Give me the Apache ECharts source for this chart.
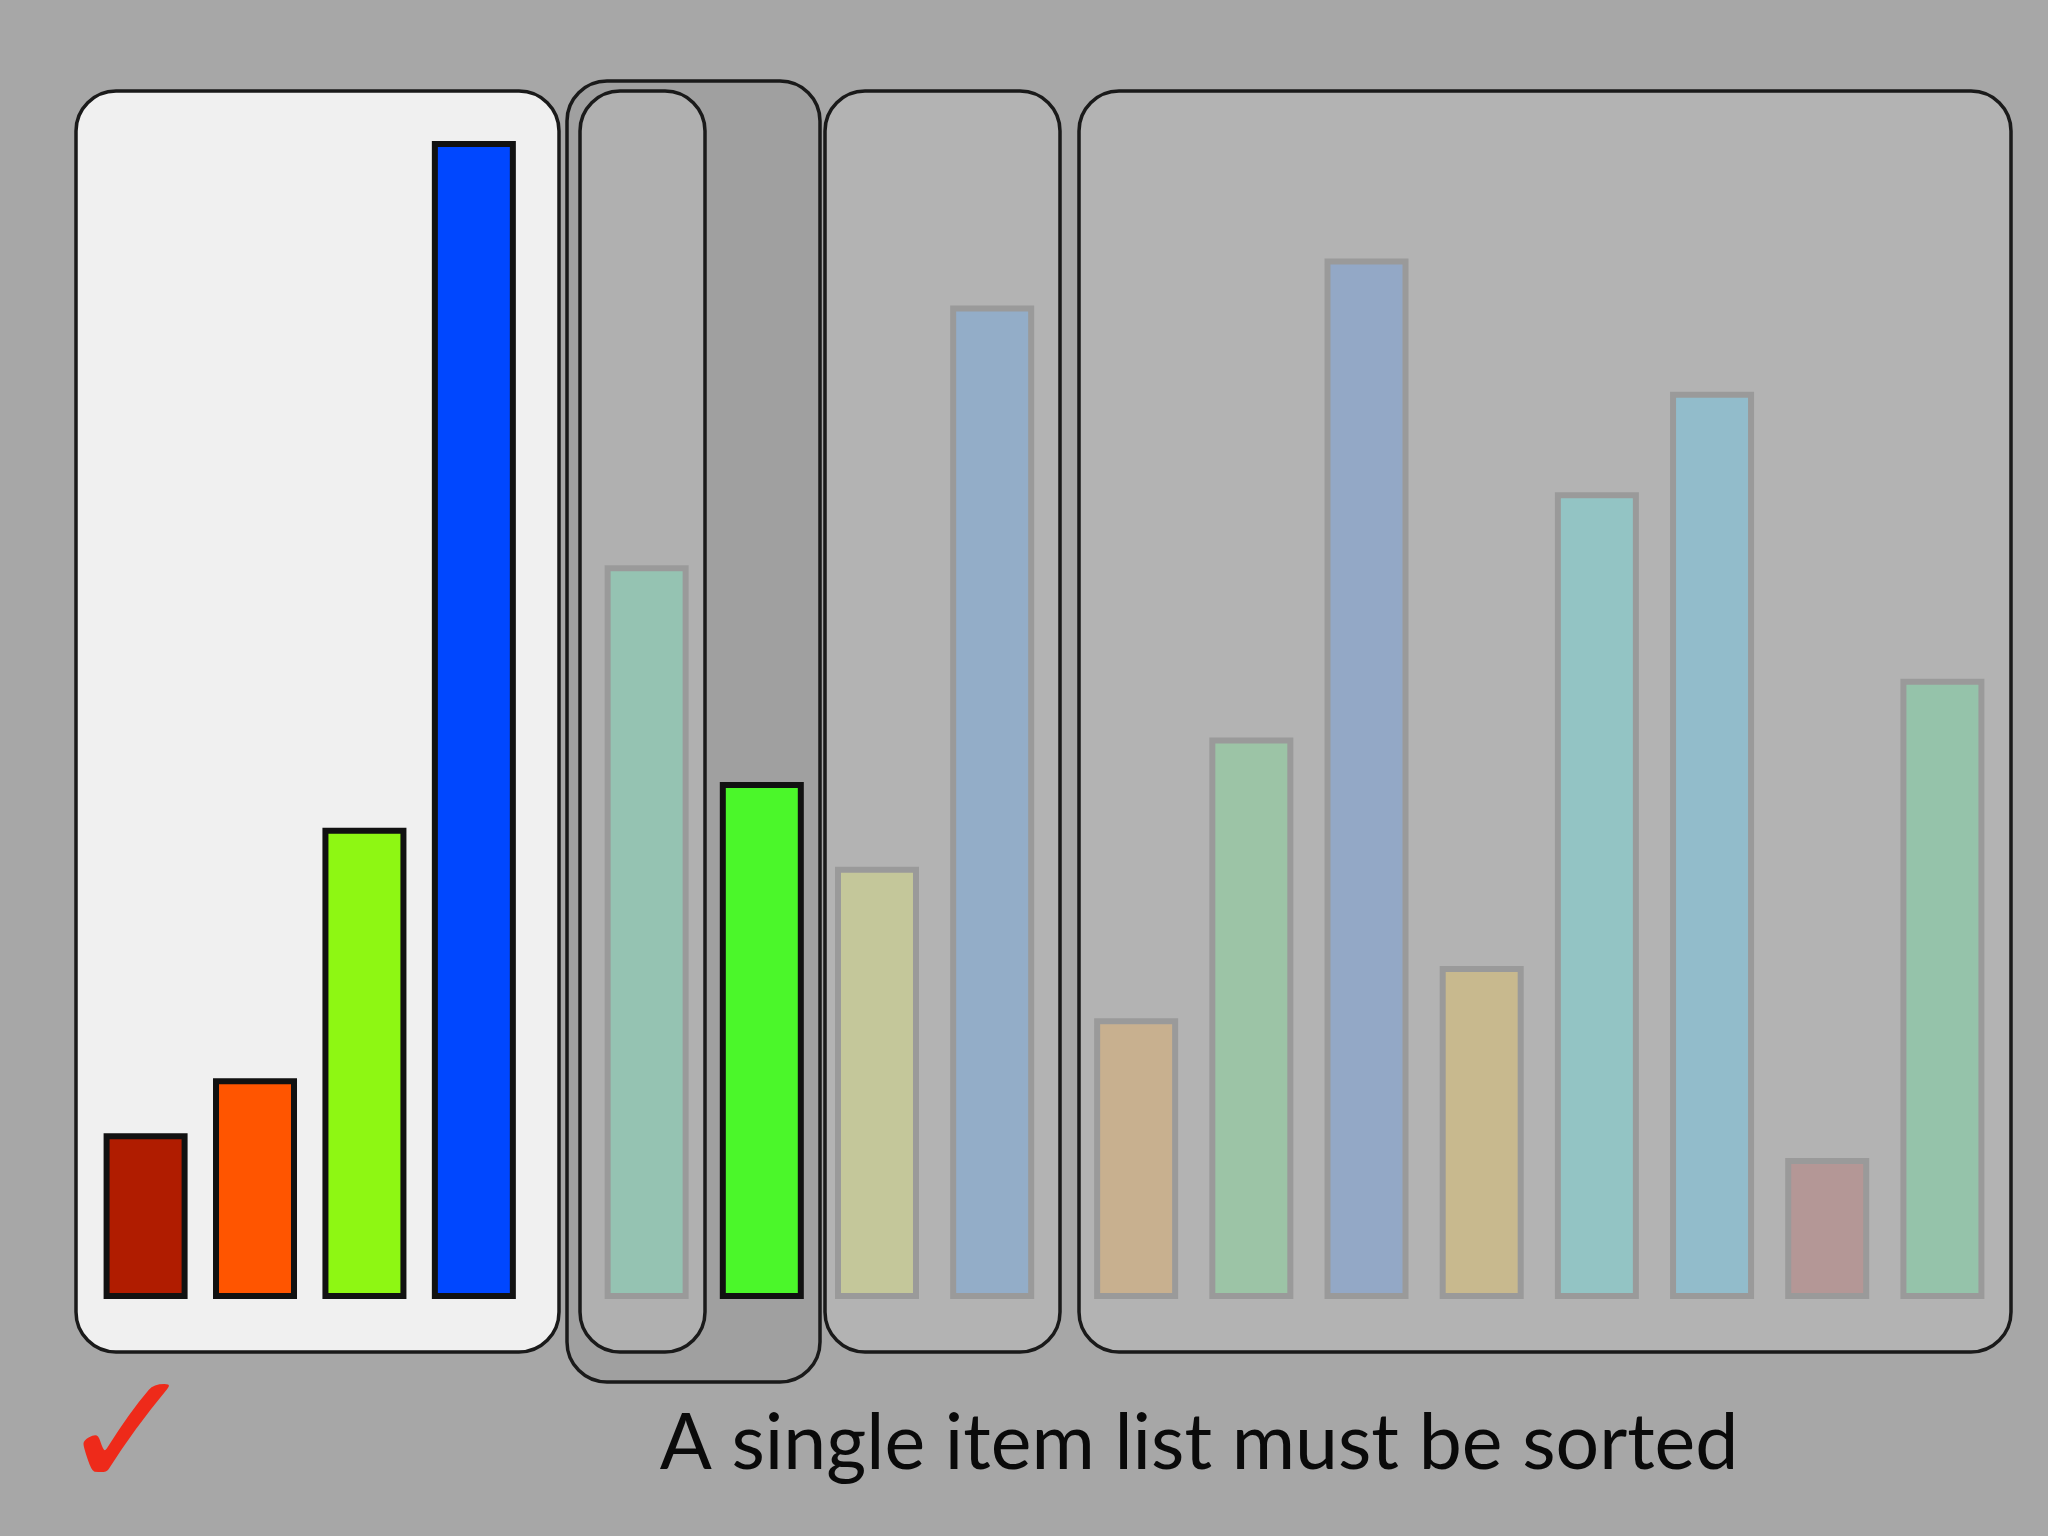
<!DOCTYPE html>
<html>
<head>
<meta charset="utf-8">
<script src="https://cdn.jsdelivr.net/npm/echarts@6/dist/echarts.min.js"></script>
<style>
  html, body { margin: 0; padding: 0; background: #a7a7a7; }
  #main { width: 2048px; height: 1536px; }
</style>
</head>
<body>
<div id="main"></div>
<script>
// bar positions (slot index along the row) and heights
const positions = [0, 0.95, 1.9, 2.85, 4.35, 5.35, 6.35, 7.35, 8.6, 9.6, 10.6, 11.6, 12.6, 13.6, 14.6, 15.6]
const values = [127, 169, 361, 887, 562, 396, 331, 761, 215, 430, 797, 255, 618, 695, 108, 475]
const colors = ['#b01c00', '#ff5500', '#8ef713', '#0047ff', '#95c3b2', '#4bf72a', '#c4c79a', '#93adc8',
  '#c8b08f', '#9cc4a6', '#93a8c6', '#c8b98e', '#93c4c4', '#92bccb', '#b49796', '#95c3aa']
const active = [true, true, true, true, false, true, false, false, false, false, false, false, false, false, false, false]
const caption = 'A single item list must be sorted'

const myChart = echarts.init(document.querySelector('#main'))

// 圆角框
const box = (x, y, w, h, fill, r) => ({
  type: 'rect', z: 0,
  shape: { x, y, width: w, height: h, r: r || 40 },
  style: { fill, stroke: '#1a1a1a', lineWidth: 3.5 }
})

const option = {
  backgroundColor: '#a7a7a7',
  animation: false,
  grid: { left: 88, right: 48, top: 124, bottom: 237 },
  xAxis: { type: 'value', min: -0.5, max: 16.1, show: false },
  yAxis: { type: 'value', min: 0, max: 900, show: false },
  graphic: [
    box(76, 91, 483, 1261, '#f0f0f0'),
    box(567, 81, 253, 1301, '#a0a0a0'),
    box(580, 91, 125, 1261, '#b0b0b0'),
    box(825, 91, 235, 1261, '#b3b3b3'),
    box(1079, 91, 932, 1261, '#b3b3b3'),
    {
      type: 'text', z: 5, x: 1199, y: 1444,
      style: { text: caption, font: '77px Lato, "DejaVu Sans", sans-serif', fill: '#0a0a0a', align: 'center', verticalAlign: 'middle' }
    },
    {
      type: 'text', z: 5, x: 128, y: 1445,
      style: { text: '✓', font: 'bold 165px "DejaVu Sans", sans-serif', fill: '#ee2a1a', align: 'center', verticalAlign: 'middle' }
    }
  ],
  series: [{
    type: 'bar',
    z: 2,
    barWidth: 84,
    data: positions.map((p, i) => ({
      value: [p, values[i]],
      itemStyle: {
        color: colors[i],
        borderColor: active[i] ? '#111' : '#9a9a9a',
        borderWidth: 6
      }
    }))
  }]
}
myChart.setOption(option)
</script>
</body>
</html>
